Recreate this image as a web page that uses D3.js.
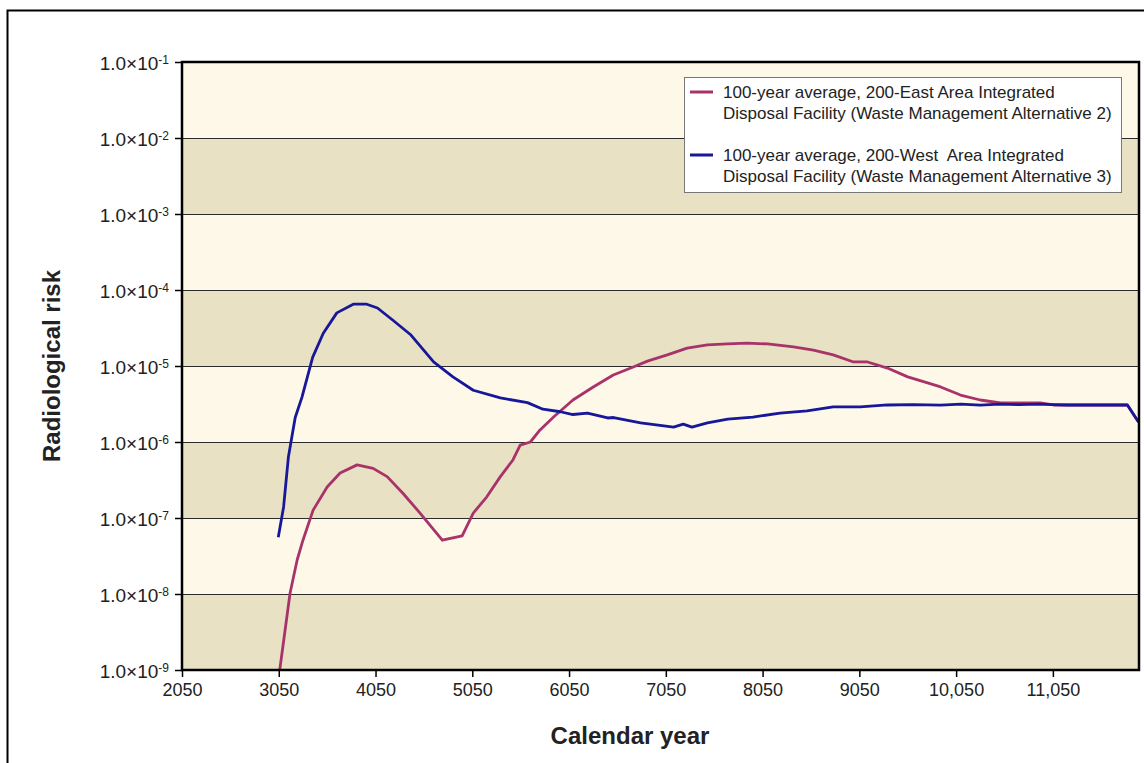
<!DOCTYPE html>
<html>
<head>
<meta charset="utf-8">
<script src="https://cdn.jsdelivr.net/npm/d3@7"></script>
<style>
  html, body { margin: 0; padding: 0; background: #fff; }
  svg { display: block; font-family: "Liberation Sans", Arial, Helvetica, sans-serif; }
</style>
</head>
<body>
<svg id="chart" width="1144" height="763"></svg>
<script>
// Radiological risk over time, 100-year averages for two disposal alternatives
const eastYears = [3060, 3167, 3240, 3300, 3405, 3550, 3684, 3860, 4025, 4170, 4335, 4510, 4740, 4945, 5060, 5200, 5340, 5470, 5545, 5650, 5750, 5890, 6090, 6300, 6507, 6714, 6860, 7065, 7270, 7480, 7685, 7890, 8100, 8370, 8575, 8780, 8990, 9135, 9340, 9550, 9755, 9890, 10095, 10300, 10510, 10715, 10920, 11055, 11200, 11400, 11600, 11820, 11935];
const eastRisk = [1.0e-9, 1.03e-8, 2.8e-8, 5.1e-8, 1.27e-7, 2.56e-7, 3.9e-7, 5.0e-7, 4.5e-7, 3.5e-7, 2.1e-7, 1.16e-7, 5.1e-8, 5.8e-8, 1.16e-7, 1.9e-7, 3.5e-7, 5.8e-7, 9.1e-7, 1.0e-6, 1.44e-6, 2.13e-6, 3.57e-6, 5.3e-6, 7.6e-6, 9.7e-6, 1.16e-5, 1.4e-5, 1.72e-5, 1.9e-5, 1.95e-5, 2.0e-5, 1.95e-5, 1.78e-5, 1.62e-5, 1.4e-5, 1.13e-5, 1.13e-5, 9.4e-6, 7.2e-6, 6.0e-6, 5.3e-6, 4.15e-6, 3.57e-6, 3.26e-6, 3.26e-6, 3.26e-6, 3.07e-6, 3.07e-6, 3.07e-6, 3.07e-6, 3.07e-6, 1.83e-6];

const westYears = [3045, 3100, 3150, 3220, 3290, 3400, 3510, 3650, 3820, 3960, 4070, 4230, 4410, 4650, 4850, 5060, 5340, 5620, 5780, 5960, 6090, 6240, 6450, 6510, 6790, 7130, 7230, 7320, 7480, 7690, 7950, 8230, 8510, 8780, 9060, 9340, 9610, 9890, 10100, 10300, 10500, 10700, 10900, 11050, 11200, 11400, 11600, 11820, 11935];
const westRisk = [5.6e-8, 1.4e-7, 6.4e-7, 2.1e-6, 3.9e-6, 1.3e-5, 2.7e-5, 5.0e-5, 6.5e-5, 6.5e-5, 5.8e-5, 4.0e-5, 2.6e-5, 1.13e-5, 7.2e-6, 4.8e-6, 3.8e-6, 3.3e-6, 2.7e-6, 2.5e-6, 2.3e-6, 2.4e-6, 2.07e-6, 2.1e-6, 1.78e-6, 1.57e-6, 1.72e-6, 1.57e-6, 1.78e-6, 2.0e-6, 2.13e-6, 2.4e-6, 2.56e-6, 2.9e-6, 2.9e-6, 3.07e-6, 3.1e-6, 3.05e-6, 3.15e-6, 3.05e-6, 3.15e-6, 3.1e-6, 3.15e-6, 3.1e-6, 3.07e-6, 3.07e-6, 3.07e-6, 3.07e-6, 1.83e-6];

const xTickValues = [2050, 3050, 4050, 5050, 6050, 7050, 8050, 9050, 10050, 11050];
const xTickLabels = ["2050", "3050", "4050", "5050", "6050", "7050", "8050", "9050", "10,050", "11,050"];
const yExponents = [-1, -2, -3, -4, -5, -6, -7, -8, -9];

const legendLabels = [
  ["100-year average, 200-East Area Integrated", "Disposal Facility (Waste Management Alternative 2)"],
  ["100-year average, 200-West  Area Integrated", "Disposal Facility (Waste Management Alternative 3)"]
];

const eastColor = "#a8336a";
const westColor = "#17179a";

const svg = d3.select("#chart");
const plot = { left: 182, right: 1139, top: 62, bottom: 670 };

const x = d3.scaleLinear().domain([2050, 11940]).range([plot.left, plot.right]);
const y = d3.scaleLog().domain([1e-9, 1e-1]).range([plot.bottom, plot.top]);

// outer frame
svg.append("rect")
  .attr("x", 7.5).attr("y", 10.5).attr("width", 1160).attr("height", 780)
  .attr("fill", "none").attr("stroke", "#000").attr("stroke-width", 2);

// alternating decade bands
const bands = d3.range(-9, -1).map(e => ({ lo: Math.pow(10, e), hi: Math.pow(10, e + 1), dark: (e % 2 !== 0) }));
svg.append("g").selectAll("rect").data(bands).join("rect")
  .attr("x", plot.left).attr("width", plot.right - plot.left)
  .attr("y", d => y(d.hi)).attr("height", d => y(d.lo) - y(d.hi))
  .attr("fill", d => d.dark ? "#e9e1c3" : "#fdf8e8");

// decade gridlines
svg.append("g").selectAll("line").data(yExponents.slice(1, -1)).join("line")
  .attr("x1", plot.left).attr("x2", plot.right)
  .attr("y1", e => Math.round(y(Math.pow(10, e))) + 0.5)
  .attr("y2", e => Math.round(y(Math.pow(10, e))) + 0.5)
  .attr("stroke", "#2b2b2b").attr("stroke-width", 1);

// series lines
svg.append("clipPath").attr("id", "clip").append("rect")
  .attr("x", plot.left).attr("y", plot.top)
  .attr("width", plot.right - plot.left).attr("height", plot.bottom - plot.top);

const line = d3.line().x(d => x(d[0])).y(d => y(d[1]));
const eastData = eastYears.map((yr, i) => [yr, eastRisk[i]]);
const westData = westYears.map((yr, i) => [yr, westRisk[i]]);

const lines = svg.append("g").attr("clip-path", "url(#clip)");
lines.append("path").datum(eastData).attr("d", line)
  .attr("fill", "none").attr("stroke", eastColor).attr("stroke-width", 2.8).attr("stroke-linejoin", "round");
lines.append("path").datum(westData).attr("d", line)
  .attr("fill", "none").attr("stroke", westColor).attr("stroke-width", 2.8).attr("stroke-linejoin", "round");

// plot frame
svg.append("rect")
  .attr("x", plot.left).attr("y", plot.top)
  .attr("width", plot.right - plot.left).attr("height", plot.bottom - plot.top)
  .attr("fill", "none").attr("stroke", "#000").attr("stroke-width", 2.5);

// y axis
const yAxis = d3.axisLeft(y).tickValues(yExponents.map(e => Math.pow(10, e))).tickSize(7).tickFormat("");
const gy = svg.append("g").attr("transform", `translate(${plot.left},0)`).call(yAxis);
gy.select(".domain").remove();
gy.selectAll(".tick line").attr("stroke", "#000").attr("stroke-width", 1.5);
gy.selectAll(".tick").each(function (d, i) {
  const t = d3.select(this).append("text")
    .attr("x", -13).attr("dy", "0.38em")
    .attr("text-anchor", "end").attr("fill", "#222")
    .style("font-size", "19px");
  t.append("tspan").text("1.0×10");
  t.append("tspan").attr("dy", "-0.45em").style("font-size", "12px").text(String(yExponents[i]));
});

// x axis
const xAxis = d3.axisBottom(x).tickValues(xTickValues).tickSize(7)
  .tickFormat((d, i) => xTickLabels[i]);
const gx = svg.append("g").attr("transform", `translate(0,${plot.bottom})`).call(xAxis);
gx.select(".domain").remove();
gx.selectAll(".tick line").attr("stroke", "#000").attr("stroke-width", 1.5);
gx.selectAll(".tick text").attr("y", 13).attr("fill", "#222")
  .style("font-size", "18px").style("font-family", "'Liberation Sans', Arial, sans-serif");

// axis titles
svg.append("text").attr("x", 630).attr("y", 744).attr("text-anchor", "middle")
  .attr("fill", "#222").style("font-size", "24px").style("font-weight", "bold").text("Calendar year");
svg.append("text").attr("transform", "translate(60,366) rotate(-90)").attr("text-anchor", "middle")
  .attr("fill", "#222").style("font-size", "24px").style("font-weight", "bold").text("Radiological risk");

// legend
const lg = svg.append("g");
lg.append("rect").attr("x", 684.5).attr("y", 77.5).attr("width", 437).attr("height", 115)
  .attr("fill", "#fff").attr("stroke", "#777").attr("stroke-width", 1);
const entries = [{ color: eastColor, lines: legendLabels[0], y0: 98 }, { color: westColor, lines: legendLabels[1], y0: 161 }];
entries.forEach(en => {
  lg.append("line").attr("x1", 690).attr("x2", 713).attr("y1", en.y0 - 6).attr("y2", en.y0 - 6)
    .attr("stroke", en.color).attr("stroke-width", 3);
  en.lines.forEach((s, k) => {
    lg.append("text").attr("x", 723).attr("y", en.y0 + k * 21)
      .attr("fill", "#222").style("font-size", "17px").style("white-space", "pre").attr("xml:space", "preserve").text(s);
  });
});
</script>
</body>
</html>
